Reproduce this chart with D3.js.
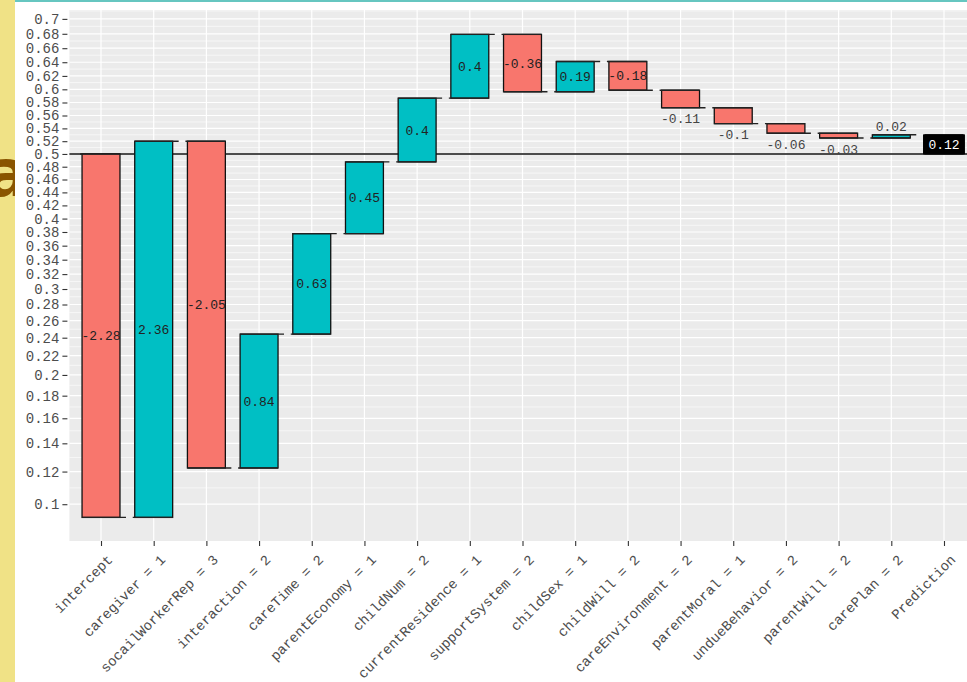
<!DOCTYPE html>
<html>
<head>
<meta charset="utf-8">
<script src="https://cdn.jsdelivr.net/npm/d3@7"></script>
<style>
  body { margin: 0; background: #fff; overflow: hidden; }
</style>
</head>
<body>
<div id="chart"></div>
<script>
// waterfall of logit contributions, y axis shown as probability
const categories = ["intercept", "caregiver = 1", "socailWorkerRep = 3", "interaction = 2",
    "careTime = 2", "parentEconomy = 1", "childNum = 2", "currentResidence = 1",
    "supportSystem = 2", "childSex = 1", "childWill = 2", "careEnvironment = 2",
    "parentMoral = 1", "undueBehavior = 2", "parentWill = 2", "carePlan = 2", "Prediction"];
const values = [-2.28, 2.36, -2.05, 0.84, 0.63, 0.45, 0.4, 0.4, -0.36, 0.19, -0.18,
    -0.11, -0.1, -0.06, -0.03, 0.02];
const prediction = 0.12;
const yTicks = [0.1, 0.12, 0.14, 0.16, 0.18, 0.2, 0.22, 0.24, 0.26, 0.28, 0.3, 0.32, 0.34,
    0.36, 0.38, 0.4, 0.42, 0.44, 0.46, 0.48, 0.5, 0.52, 0.54, 0.56, 0.58, 0.6, 0.62, 0.64,
    0.66, 0.68, 0.7];

const W = 967, H = 682;
const panel = {l: 69.4, r: 975.6, t: 10, b: 541};
const mono = "'Liberation Mono', 'DejaVu Sans Mono', monospace";

const logit = p => Math.log(p / (1 - p));

let svg = d3.select("#chart").append("svg")
    .attr("width", W).attr("height", H);

//left strip with cropped letter
svg.append("rect").attr("width", W).attr("height", H).attr("fill", "#fff");
svg.append("rect").attr("width", 15).attr("height", H).attr("fill", "#f0e286");
svg.append("text")
    .attr("x", -15).attr("y", 196)
    .attr("font-family", "'DejaVu Sans', sans-serif")
    .attr("font-size", 66).attr("font-weight", 700)
    .attr("fill", "#8a5500")
    .text("a");
svg.append("rect").attr("x", 15).attr("width", W - 15).attr("height", H).attr("fill", "#fff");
svg.append("rect").attr("x", 15).attr("width", W - 15).attr("height", 2).attr("fill", "#66c6c0");

let scaleX = d3.scalePoint().domain(categories).range([panel.l, panel.r]).padding(0.6);
let scaleY = d3.scaleLinear().domain([-2.428, 0.903]).range([panel.b, panel.t]);
const step = scaleX.step();
const barW = step * 0.72;

let graph = svg.append("g");

//panel + grid
graph.append("rect")
    .attr("x", panel.l).attr("y", panel.t)
    .attr("width", panel.r - panel.l).attr("height", panel.b - panel.t)
    .attr("fill", "#ebebeb");

const minor = [];
for (let i = 0; i < yTicks.length - 1; i++) {
    minor.push((logit(yTicks[i]) + logit(yTicks[i + 1])) / 2);
}
minor.push(logit(yTicks[yTicks.length - 1]) + 0.05);
minor.unshift(logit(yTicks[0]) - 0.25);

graph.selectAll(".minor").data(minor).enter().append("line")
    .attr("x1", panel.l).attr("x2", panel.r)
    .attr("y1", d => scaleY(d)).attr("y2", d => scaleY(d))
    .attr("stroke", "#fff").attr("stroke-width", 0.6);
graph.selectAll(".major").data(yTicks).enter().append("line")
    .attr("x1", panel.l).attr("x2", panel.r)
    .attr("y1", d => scaleY(logit(d))).attr("y2", d => scaleY(logit(d)))
    .attr("stroke", "#fff").attr("stroke-width", 1.2);
graph.selectAll(".vgrid").data(categories).enter().append("line")
    .attr("x1", d => scaleX(d)).attr("x2", d => scaleX(d))
    .attr("y1", panel.t).attr("y2", panel.b)
    .attr("stroke", "#fff").attr("stroke-width", 1.2);

//axes
let axisY = d3.axisLeft(scaleY)
    .tickValues(yTicks.map(logit))
    .tickFormat((d, i) => String(yTicks[i]))
    .tickSize(5).tickPadding(3);
let gy = graph.append("g").attr("transform", `translate(${panel.l - 2},0)`).call(axisY);
gy.select(".domain").remove();
gy.selectAll("line").attr("stroke", "#333").attr("stroke-width", 1.1);
gy.selectAll("text").attr("font-family", mono).attr("font-size", 14).attr("fill", "#4d4d4d");

let axisX = d3.axisBottom(scaleX).tickSize(5).tickFormat("");
let gx = graph.append("g").attr("transform", `translate(0,${panel.b})`).call(axisX);
gx.select(".domain").remove();
gx.selectAll("line").attr("stroke", "#333").attr("stroke-width", 1.1);

graph.selectAll(".xlab").data(categories).enter().append("text")
    .attr("transform", d => `translate(${scaleX(d) + 9},${panel.b + 16}) rotate(-45)`)
    .attr("text-anchor", "end")
    .attr("dy", "0.35em")
    .attr("font-family", mono).attr("font-size", 14).attr("fill", "#4d4d4d")
    .text(d => d);

//reference line at p = 0.5
graph.append("line")
    .attr("x1", panel.l).attr("x2", panel.r)
    .attr("y1", scaleY(0)).attr("y2", scaleY(0))
    .attr("stroke", "#111").attr("stroke-width", 1.4);

//waterfall rows
const rows = [];
let run = 0;
values.forEach((v, i) => {
    rows.push({name: categories[i], v: v, start: run, end: run + v});
    run += v;
});
rows.push({name: "Prediction", v: prediction, start: 0, end: prediction, pred: true});

let bars = graph.selectAll(".bar").data(rows).enter().append("g");

bars.append("rect")
    .attr("x", d => scaleX(d.name) - barW / 2)
    .attr("width", barW)
    .attr("y", d => scaleY(Math.max(d.start, d.end)))
    .attr("height", d => Math.abs(scaleY(d.start) - scaleY(d.end)))
    .attr("fill", d => d.pred ? "#000" : (d.v < 0 ? "#f8766d" : "#00bfc4"))
    .attr("stroke", "#111").attr("stroke-width", 1.3);

//connector ticks at start and end of each step
bars.filter(d => !d.pred).append("line")
    .attr("x1", d => scaleX(d.name) - barW / 2)
    .attr("x2", d => scaleX(d.name) + barW / 2 + 6)
    .attr("y1", d => scaleY(d.end)).attr("y2", d => scaleY(d.end))
    .attr("stroke", "#222").attr("stroke-width", 1.4);
bars.filter(d => !d.pred).append("line")
    .attr("x1", d => scaleX(d.name) - barW / 2 - 2)
    .attr("x2", d => scaleX(d.name) + barW / 2)
    .attr("y1", d => scaleY(d.start)).attr("y2", d => scaleY(d.start))
    .attr("stroke", "#222").attr("stroke-width", 1.4);

//value labels
function labelY(d) {
    if (d.pred || Math.abs(d.v) >= 0.15) return scaleY((d.start + d.end) / 2);
    return d.v < 0 ? scaleY(d.end) + 11 : scaleY(d.end) - 8;
}
bars.filter(d => d.pred).append("rect")
    .attr("x", d => scaleX(d.name) - barW / 2 - 2)
    .attr("y", d => labelY(d) - 10)
    .attr("width", barW + 4).attr("height", 20)
    .attr("fill", "#000");
bars.append("text")
    .attr("x", d => scaleX(d.name))
    .attr("y", labelY)
    .attr("dy", "0.35em")
    .attr("text-anchor", "middle")
    .attr("font-family", mono).attr("font-size", 13)
    .attr("fill", d => d.pred ? "#fff" : (Math.abs(d.v) >= 0.15 ? "#222" : "#444"))
    .text(d => String(d.v));
</script>
</body>
</html>
